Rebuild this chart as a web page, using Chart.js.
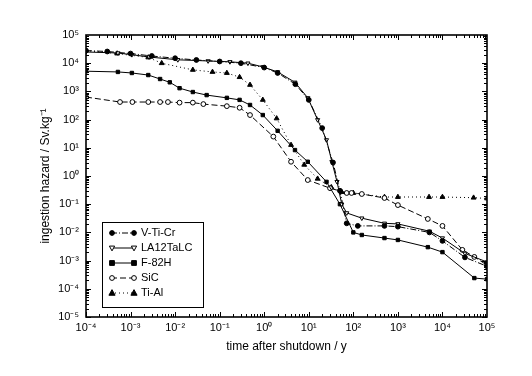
<!DOCTYPE html>
<html lang="en">
<head>
<meta charset="UTF-8">
<title>Ingestion hazard after shutdown</title>
<script src="https://cdn.jsdelivr.net/npm/chart.js"></script>
<style>
    body { margin: 0; background: #fff; }
    #wrap { width: 532px; height: 376px; }
</style>
</head>
<body>
<div id="wrap"><canvas id="hazardChart" width="532" height="376"></canvas></div>
<script>
// decade ticks on both log axes
const xTicks = [1e-4, 1e-3, 1e-2, 1e-1, 1e0, 1e1, 1e2, 1e3, 1e4, 1e5];
const yTicks = [1e-5, 1e-4, 1e-3, 1e-2, 1e-1, 1e0, 1e1, 1e2, 1e3, 1e4, 1e5];

const seriesNames = ['V-Ti-Cr', 'LA12TaLC', 'F-82H', 'SiC', 'Ti-Al'];

// values (years, Sv/kg)
const vtiX = [1e-4, 3e-4, 1e-3, 3e-3, 1e-2, 3e-2, 0.1, 0.3, 1, 2, 5, 10, 20, 35, 50, 71, 126, 500, 1000, 5100, 1e4, 3.2e4, 1e5];
const vtiY = [2.8e4, 2.6e4, 2.2e4, 1.8e4, 1.5e4, 1.3e4, 1.15e4, 1.0e4, 7e3, 4.5e3, 1.8e3, 500, 50, 3, 0.3, 0.021, 0.017, 0.017, 0.016, 0.01, 5e-3, 1.3e-3, 6.3e-4];

const laX = [1e-4, 5.2e-4, 1.07e-3, 2.6e-3, 1.15e-2, 5.5e-2, 0.17, 0.43, 0.93, 2.0, 4.9, 9.5, 15.8, 25, 33, 43, 55, 71, 155, 500, 1000, 5100, 1e4, 3.2e4, 1e5];
const laY = [2.5e4, 2.3e4, 2.0e4, 1.66e4, 1.32e4, 1.2e4, 1.12e4, 1.0e4, 7.4e3, 4.9e3, 2.1e3, 590, 98, 19, 3.2, 0.63, 0.1, 0.049, 0.032, 0.021, 0.02, 0.011, 6.3e-3, 1.8e-3, 8.9e-4];

const f82X = [1e-4, 5.2e-4, 1.07e-3, 2.5e-3, 4.6e-3, 7.6e-3, 1.26e-2, 2.5e-2, 5.1e-2, 0.145, 0.28, 0.48, 0.93, 2.0, 4.9, 9.5, 25, 50, 100, 155, 500, 1000, 4700, 1e4, 5.2e4, 1e5];
const f82Y = [5.2e3, 4.9e3, 4.5e3, 3.8e3, 2.75e3, 2.1e3, 1.3e3, 950, 740, 590, 500, 330, 145, 40, 8.3, 3.2, 0.62, 0.1, 0.01, 8.1e-3, 6.3e-3, 5.4e-3, 3e-3, 2e-3, 2.4e-4, 2.2e-4];

const sicX = [1e-4, 5.8e-4, 1.1e-3, 2.5e-3, 4.6e-3, 6.9e-3, 1.26e-2, 2.5e-2, 4.3e-2, 0.145, 0.28, 0.48, 1.6, 4, 9.5, 30, 71, 91, 155, 500, 1000, 4700, 1e4, 2.8e4, 5.2e4, 1e5];
const sicY = [630, 420, 420, 420, 420, 420, 400, 400, 355, 300, 263, 145, 25, 3.2, 0.72, 0.37, 0.25, 0.25, 0.23, 0.166, 0.093, 0.03, 0.017, 2.4e-3, 1.35e-3, 6.9e-4];

const tialX = [1e-4, 5e-4, 2.5e-3, 5e-3, 2.5e-2, 6.9e-2, 0.145, 0.28, 0.48, 0.93, 1.9, 4, 7.9, 15.8, 32, 55, 100, 500, 1000, 5000, 1e4, 5e4, 1e5];
const tialY = [2.8e4, 2.2e4, 1.6e4, 1e4, 5.8e3, 4.9e3, 4.5e3, 3.2e3, 1.7e3, 500, 110, 12.6, 2.5, 0.8, 0.4, 0.27, 0.25, 0.18, 0.18, 0.18, 0.18, 0.17, 0.16];

function toPoints(xs, ys) {
    return xs.map((x, i) => ({ x: x, y: ys[i] }));
}

const supDigits = { '0': '⁰', '1': '¹', '2': '²', '3': '³', '4': '⁴', '5': '⁵', '6': '⁶', '7': '⁷', '8': '⁸', '9': '⁹', '-': '⁻' };
function powerLabel(v) {
    const e = Math.round(Math.log10(v));
    return '10' + String(e).split('').map(c => supDigits[c]).join('');
}

// small marker drawer, used by the legend box
function drawMarker(ctx, ds, x, y) {
    const r = ds.pointRadius;
    ctx.save();
    ctx.beginPath();
    if (ds.pointStyle === 'rect') {
        ctx.rect(x - r, y - r, 2 * r, 2 * r);
    } else if (ds.pointStyle === 'triangle') {
        const s = ds.pointRotation === 180 ? -1 : 1;
        ctx.moveTo(x, y - s * r * 1.2);
        ctx.lineTo(x + r * 1.1, y + s * r * 0.8);
        ctx.lineTo(x - r * 1.1, y + s * r * 0.8);
        ctx.closePath();
    } else {
        ctx.arc(x, y, r, 0, Math.PI * 2);
    }
    ctx.fillStyle = ds.pointBackgroundColor;
    ctx.fill();
    ctx.lineWidth = 1;
    ctx.strokeStyle = '#000';
    ctx.stroke();
    ctx.restore();
}

// frame, inward ticks on all sides, and the boxed legend
const framePlugin = {
    id: 'frame',
    afterDraw(chart) {
        const ctx = chart.ctx;
        const a = chart.chartArea;
        const xs = chart.scales.x, ys = chart.scales.y;
        ctx.save();
        ctx.strokeStyle = '#000';
        ctx.lineWidth = 1.6;
        ctx.strokeRect(a.left, a.top, a.right - a.left, a.bottom - a.top);

        ctx.lineWidth = 1;
        ctx.beginPath();
        for (let e = -4; e < 5; e++) {
            for (let k = 1; k < 10; k++) {
                const px = Math.round(xs.getPixelForValue(k * Math.pow(10, e))) + 0.5;
                const len = k === 1 ? 5 : 3;
                ctx.moveTo(px, a.bottom); ctx.lineTo(px, a.bottom - len);
                ctx.moveTo(px, a.top); ctx.lineTo(px, a.top + len);
            }
        }
        for (let e = -5; e < 5; e++) {
            for (let k = 1; k < 10; k++) {
                const py = Math.round(ys.getPixelForValue(k * Math.pow(10, e))) + 0.5;
                const len = k === 1 ? 5 : 3;
                ctx.moveTo(a.left, py); ctx.lineTo(a.left + len, py);
                ctx.moveTo(a.right, py); ctx.lineTo(a.right - len, py);
            }
        }
        ctx.stroke();

        // legend box inside the plot
        const bx = 102, by = 222, bw = 101, bh = 85;
        ctx.lineWidth = 1;
        ctx.strokeRect(bx + 0.5, by + 0.5, bw, bh);
        ctx.font = '11px "Liberation Sans", Arial, sans-serif';
        ctx.textBaseline = 'middle';
        ctx.fillStyle = '#000';
        chart.data.datasets.forEach((ds, i) => {
            const y = by + 11 + i * 15;
            ctx.save();
            ctx.setLineDash(ds.borderDash || []);
            ctx.lineWidth = ds.borderWidth;
            ctx.beginPath();
            ctx.moveTo(111, y);
            ctx.lineTo(135, y);
            ctx.stroke();
            ctx.restore();
            drawMarker(ctx, ds, 112, y);
            drawMarker(ctx, ds, 134, y);
            ctx.fillText(ds.label, 141, y);
        });
        ctx.restore();
    }
};

const common = {
    borderColor: '#000',
    borderWidth: 1,
    pointBorderColor: '#000',
    pointBorderWidth: 1,
    pointRadius: 2.4,
    tension: 0,
    fill: false
};

new Chart(document.getElementById('hazardChart').getContext('2d'), {
    type: 'line',
    data: {
        datasets: [
            Object.assign({}, common, { label: seriesNames[0], data: toPoints(vtiX, vtiY), borderDash: [6, 2, 1, 2], pointStyle: 'circle', pointBackgroundColor: '#000' }),
            Object.assign({}, common, { label: seriesNames[1], data: toPoints(laX, laY), borderDash: [], pointStyle: 'triangle', pointRotation: 180, pointBackgroundColor: '#fff' }),
            Object.assign({}, common, { label: seriesNames[2], data: toPoints(f82X, f82Y), borderDash: [], pointStyle: 'rect', pointBackgroundColor: '#000' }),
            Object.assign({}, common, { label: seriesNames[3], data: toPoints(sicX, sicY), borderDash: [6, 3], pointStyle: 'circle', pointBackgroundColor: '#fff' }),
            Object.assign({}, common, { label: seriesNames[4], data: toPoints(tialX, tialY), borderDash: [1, 3], pointStyle: 'triangle', pointBackgroundColor: '#000', pointRadius: 2.8 })
        ]
    },
    options: {
        responsive: false,
        animation: false,
        devicePixelRatio: 1,
        layout: { padding: { top: 35, right: 45, bottom: 0, left: 0 } },
        plugins: {
            legend: { display: false },
            tooltip: { enabled: false }
        },
        scales: {
            x: {
                type: 'logarithmic',
                min: 1e-4,
                max: 1e5,
                afterBuildTicks: s => { s.ticks = xTicks.map(v => ({ value: v })); },
                afterFit: s => { s.height = 59; },
                grid: { display: false, drawTicks: false },
                border: { display: false },
                ticks: {
                    autoSkip: false,
                    maxRotation: 0,
                    padding: 4,
                    color: '#000',
                    font: { family: '"Liberation Sans", Arial, sans-serif', size: 11 },
                    callback: v => powerLabel(v)
                },
                title: {
                    display: true,
                    text: 'time after shutdown / y',
                    color: '#000',
                    font: { family: '"Liberation Sans", Arial, sans-serif', size: 12 },
                    padding: { top: 0, bottom: 22 }
                }
            },
            y: {
                type: 'logarithmic',
                min: 1e-5,
                max: 1e5,
                afterBuildTicks: s => { s.ticks = yTicks.map(v => ({ value: v })); },
                afterFit: s => { s.width = 86; },
                grid: { display: false, drawTicks: false },
                border: { display: false },
                ticks: {
                    autoSkip: false,
                    padding: 7,
                    color: '#000',
                    font: { family: '"Liberation Sans", Arial, sans-serif', size: 11 },
                    callback: v => powerLabel(v)
                },
                title: {
                    display: true,
                    text: 'ingestion hazard / Sv.kg⁻¹',
                    color: '#000',
                    font: { family: '"Liberation Sans", Arial, sans-serif', size: 12 },
                    padding: { top: 38, bottom: 0 }
                }
            }
        }
    },
    plugins: [framePlugin]
});
</script>
</body>
</html>
